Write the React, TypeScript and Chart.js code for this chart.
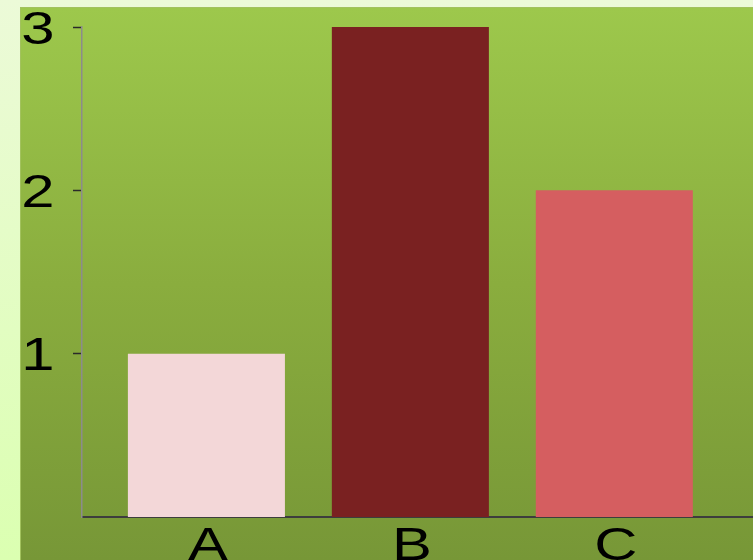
import { useEffect, useRef } from 'react';
import { Chart, registerables } from 'chart.js';
import type { Plugin } from 'chart.js';

Chart.register(...registerables);

// Chart data
const categories = ['A', 'B', 'C'];
const values = [1, 3, 2];
const barColors = ['#f3d7d8', '#7a2121', '#d55e60'];
const yTickValues = [1, 2, 3];

// Axis label styling
const LABEL_FONT = '46px "Liberation Sans", Arial, sans-serif';
const LABEL_STRETCH = 1.3;
const Y_TICK_LENGTH = 9;
const Y_LABEL_GAP = 20.5;

// Draws the axis labels a little wider than the font's natural width.
const wideLabels: Plugin<'bar'> = {
  id: 'wideLabels',
  afterDraw(chart) {
    const { ctx } = chart;
    const xs = chart.scales.x;
    const ys = chart.scales.y;
    ctx.save();
    ctx.font = LABEL_FONT;
    ctx.fillStyle = '#000000';
    ctx.textBaseline = 'alphabetic';

    // y labels: the right edge of the glyph ink sits a fixed gap from the tick mark
    ctx.textAlign = 'left';
    ys.ticks.forEach((t, i) => {
      if (!t.label) return;
      const text = String(t.label);
      const py = ys.getPixelForTick(i);
      const inkRight = ctx.measureText(text).actualBoundingBoxRight * LABEL_STRETCH;
      ctx.save();
      ctx.translate(ys.right - Y_TICK_LENGTH - Y_LABEL_GAP - inkRight, py + 16.5);
      ctx.scale(LABEL_STRETCH, 1);
      ctx.fillText(text, 0, 0);
      ctx.restore();
    });

    ctx.textAlign = 'center';
    xs.ticks.forEach((t, i) => {
      if (!t.label) return;
      const px = xs.getPixelForTick(i);
      ctx.save();
      ctx.translate(px + 1.5, xs.top + 43);
      ctx.scale(LABEL_STRETCH, 1);
      ctx.fillText(String(t.label), 0, 0);
      ctx.restore();
    });
    ctx.restore();
  },
};

export default function App() {
  const canvasRef = useRef<HTMLCanvasElement | null>(null);

  useEffect(() => {
    const canvas = canvasRef.current;
    if (!canvas) return;

    const chart = new Chart(canvas, {
      type: 'bar',
      data: {
        datasets: [
          {
            data: values.map((v, i) => ({ x: i, y: v })),
            backgroundColor: barColors,
            borderWidth: 0,
            categoryPercentage: 1,
            barPercentage: 0.77,
          },
        ],
      },
      options: {
        responsive: false,
        animation: false,
        layout: { padding: { top: 20, left: 0, right: 0, bottom: 0 } },
        plugins: {
          legend: { display: false },
          tooltip: { enabled: false },
        },
        scales: {
          x: {
            type: 'linear',
            offset: false,
            min: -0.61,
            max: 2.68,
            afterBuildTicks: (scale) => {
              scale.ticks = categories.map((_, i) => ({ value: i }));
            },
            afterFit: (scale) => {
              scale.height = 50;
              scale.paddingLeft = 0;
              scale.paddingRight = 0;
            },
            ticks: {
              display: false,
              callback: (v) => categories[Number(v)] ?? '',
            },
            grid: { offset: false, drawOnChartArea: false, drawTicks: false },
            border: { display: true, color: '#3d3d3d', width: 2 },
          },
          y: {
            type: 'linear',
            min: 0,
            max: 3,
            afterBuildTicks: (scale) => {
              scale.ticks = yTickValues.map((v) => ({ value: v }));
            },
            afterFit: (scale) => {
              scale.width = 62;
              scale.paddingTop = 0;
              scale.paddingBottom = 0;
            },
            ticks: {
              display: false,
              callback: (v) => String(v),
            },
            grid: {
              drawOnChartArea: false,
              drawTicks: true,
              tickLength: Y_TICK_LENGTH,
              tickColor: '#2a2a2a',
              tickWidth: 1.5,
            },
            border: { display: true, color: '#8c8c8c', width: 1.5 },
          },
        },
      },
      plugins: [wideLabels],
    });

    return () => chart.destroy();
  }, []);

  return (
    <div
      style={{
        position: 'fixed',
        left: 0,
        top: 0,
        width: 753,
        height: 560,
        overflow: 'hidden',
        background: 'linear-gradient(180deg, #ecfad8 0%, #dbffb1 100%)',
      }}
    >
      <div
        style={{
          position: 'absolute',
          left: 20,
          top: 7,
          width: 733,
          height: 553,
          overflow: 'hidden',
          background: 'linear-gradient(180deg, #9dc84c 0%, #8aad3e 50%, #779737 100%)',
          borderTop: '1px solid #a2c25e',
          borderLeft: '1px solid #a2c25e',
          boxSizing: 'border-box',
        }}
      >
        <canvas
          ref={canvasRef}
          width={733}
          height={560}
          style={{ display: 'block', position: 'absolute', left: -1, top: -1 }}
        />
      </div>
    </div>
  );
}
